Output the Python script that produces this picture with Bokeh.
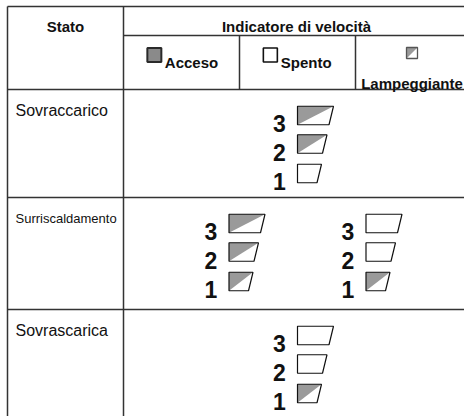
from bokeh.plotting import figure
from bokeh.models import Range1d
from bokeh.embed import file_html
from bokeh.resources import INLINE
from bokeh.core.properties import value

# ---------------- data ----------------
header_state = "Stato"
header_indicator = "Indicatore di velocità"
legend_labels = ["Acceso", "Spento", "Lampeggiante"]
statuses = ["Sovraccarico", "Surriscaldamento", "Sovrascarica"]
levels = [3, 2, 1]
sovraccarico = [["Lampeggiante", "Lampeggiante", "Spento"]]
surriscaldamento = [["Lampeggiante", "Lampeggiante", "Lampeggiante"],
                    ["Spento", "Spento", "Lampeggiante"]]
sovrascarica = [["Spento", "Spento", "Lampeggiante"]]
patterns = [sovraccarico, surriscaldamento, sovrascarica]

# ---------------- layout / style ----------------
W, H = 464, 416
col_x = [7, 123, 471]
sub_x = [123, 239, 355, 471]
row_y = [6, 35, 89, 197, 309, 430]
LINE = "#333333"
GRAY = "#9a9a9a"
FONT = "Liberation Sans"
box_width = {3: 36, 2: 29.5, 1: 24}
box_h = 18.5
slant = 4.5
level_dy = {3: 26, 2: 54.5, 1: 84}
digit_fs = 23

p = figure(width=W, height=H, x_range=Range1d(0, W), y_range=Range1d(H, 0),
           output_backend="svg", toolbar_location=None, min_border=0,
           x_axis_location=None, y_axis_location=None)
p.xgrid.visible = False
p.ygrid.visible = False
p.outline_line_color = None
p.background_fill_color = "white"
p.border_fill_color = "white"

# ---------------- grid lines ----------------
hx0, hy0, hx1, hy1 = [], [], [], []
hx0 += [col_x[0]]; hx1 += [col_x[2]]; hy0 += [row_y[0]]; hy1 += [row_y[0]]
hx0 += [col_x[1]]; hx1 += [col_x[2]]; hy0 += [row_y[1]]; hy1 += [row_y[1]]
for yy in row_y[2:5]:
    hx0 += [col_x[0]]; hx1 += [col_x[2]]; hy0 += [yy]; hy1 += [yy]
for xx in col_x:
    hx0 += [xx]; hx1 += [xx]; hy0 += [row_y[0]]; hy1 += [row_y[5]]
for xx in sub_x[1:3]:
    hx0 += [xx]; hx1 += [xx]; hy0 += [row_y[1]]; hy1 += [row_y[2]]
p.segment(hx0, hy0, hx1, hy1, line_color=LINE, line_width=1.5)

# ---------------- header texts ----------------
p.text(x=[(col_x[0] + col_x[1]) / 2, (col_x[1] + col_x[2]) / 2 - 1], y=[row_y[0] + 20, row_y[0] + 20],
       text=[header_state, header_indicator], text_font=value(FONT), text_font_style="bold",
       text_font_size="15px", text_align="center", text_baseline="alphabetic", text_color="#111111")

def approx_width(s, fs):
    return len(s) * 0.57 * fs

hdr_fs = 15
icon = 15
for i, lab in enumerate(legend_labels[:2]):
    cx = (sub_x[i] + sub_x[i + 1]) / 2
    tw = approx_width(lab, hdr_fs)
    total = icon + 3 + tw
    left = cx - total / 2
    cy = row_y[1] + 19.5
    if lab == "Acceso":
        p.rect(x=[left + icon / 2], y=[cy], width=icon - 1, height=icon - 1,
               fill_color="#8a8a8a", line_color="#2a2a2a", line_width=2)
    else:
        p.rect(x=[left + icon / 2], y=[cy], width=icon - 1, height=icon - 1,
               fill_color="white", line_color="#111111", line_width=1.6)
    p.text(x=[left + icon + 3], y=[cy + 7], text=[lab], text_font=value(FONT),
           text_font_style="bold", text_font_size="15px", text_align="left",
           text_baseline="alphabetic", text_color="#111111")

# Lampeggiante legend
cx = (sub_x[2] + sub_x[3]) / 2 - 1.5
s = 11
top = row_y[1] + 12
p.patches(xs=[[cx - s / 2, cx + s / 2, cx - s / 2]], ys=[[top, top, top + s]],
          fill_color=GRAY, line_color=None)
p.rect(x=[cx], y=[top + s / 2], width=s, height=s, fill_color=None,
       line_color="#555555", line_width=1.3)
p.text(x=[cx], y=[row_y[2] - 6], text=[legend_labels[2]], text_font=value(FONT),
       text_font_style="bold", text_font_size="15px", text_align="center",
       text_baseline="alphabetic", text_color="#111111")

# ---------------- rows ----------------
ind_center = (col_x[1] + col_x[2]) / 2
anchor_base = ind_center - 18
group_spread = 137

tri_xs, tri_ys, box_xs, box_ys = [], [], [], []
dig_x, dig_y, dig_t = [], [], []
for r, (status, groups) in enumerate(zip(statuses, patterns)):
    rtop = row_y[2 + r]
    fs = "13px" if len(status) > 14 else "16px"
    p.text(x=[15], y=[rtop + 21], text=[status], text_font=value(FONT),
           text_font_size=fs, text_align="left", text_baseline="alphabetic",
           text_color="#111111")
    n = len(groups)
    anchors = [anchor_base + (k - (n - 1) / 2) * group_spread for k in range(n)]
    for a, pat in zip(anchors, groups):
        for lvl, state in zip(levels, pat):
            cy = rtop + level_dy[lvl]
            dig_x.append(a); dig_y.append(cy + 8.3); dig_t.append(str(lvl))
            L = a + 18
            T = cy - box_h / 2
            B = cy + box_h / 2
            w = box_width[lvl]
            box_xs.append([L, L + w, L + w - slant, L])
            box_ys.append([T, T, B, B])
            if state == "Lampeggiante":
                tri_xs.append([L, L + w, L])
                tri_ys.append([T, T, B])
            elif state == "Acceso":
                tri_xs.append([L, L + w, L + w - slant, L])
                tri_ys.append([T, T, B, B])

p.patches(xs=tri_xs, ys=tri_ys, fill_color=GRAY, line_color=None)
p.patches(xs=box_xs, ys=box_ys, fill_color=None, line_color="#111111", line_width=1.2)
p.text(x=dig_x, y=dig_y, text=dig_t, text_font=value(FONT), text_font_style="bold",
       text_font_size=f"{digit_fs}px", text_align="center", text_baseline="alphabetic",
       text_color="#111111")

open("out.html", "w").write(file_html(p, INLINE))
